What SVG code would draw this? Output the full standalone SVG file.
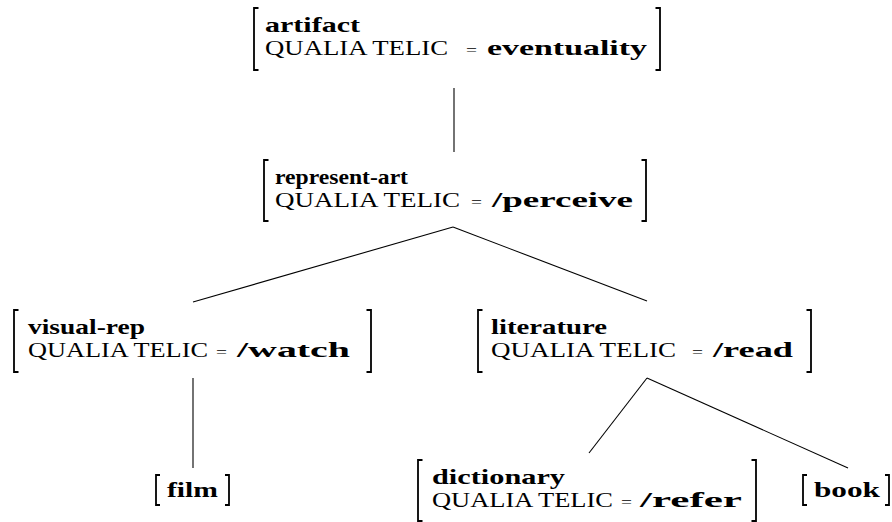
<svg xmlns="http://www.w3.org/2000/svg" width="892" height="522" viewBox="0 0 892 522">
<style>
text{font-family:"Liberation Serif","Times New Roman",serif;font-size:22px;fill:#000}
.b{font-weight:bold}
.eq{font-size:15px}
.br{fill:none;stroke:#000;stroke-width:1.8;stroke-linecap:butt}
.edge{stroke:#000;stroke-width:1.1;fill:none}
</style>
<rect width="892" height="522" fill="#fff"/>
<g id="connectors">
<line class="edge" x1="454" y1="88" x2="454" y2="152"/>
<line class="edge" x1="453" y1="227" x2="193" y2="302"/>
<line class="edge" x1="453" y1="227" x2="647" y2="301"/>
<line class="edge" x1="193" y1="378" x2="193" y2="468"/>
<line class="edge" x1="647" y1="378" x2="589" y2="453"/>
<line class="edge" x1="647" y1="378" x2="848" y2="468"/>
</g>
<g id="artifact">
<path class="br" d="M258.5,8 H254 V70 H258.5"/>
<path class="br" d="M655.5,8 H660 V70 H655.5"/>
<text class="b" x="265" y="32" textLength="95" lengthAdjust="spacingAndGlyphs">artifact</text>
<text x="265" y="55" textLength="183" lengthAdjust="spacingAndGlyphs">QUALIA TELIC</text>
<text class="eq" x="466" y="55" textLength="11" lengthAdjust="spacingAndGlyphs">=</text>
<text class="b" x="487" y="55" textLength="160" lengthAdjust="spacingAndGlyphs">eventuality</text>
</g>
<g id="represent-art">
<path class="br" d="M268.5,160 H264 V221 H268.5"/>
<path class="br" d="M641.5,160 H646 V221 H641.5"/>
<text class="b" x="275" y="184" textLength="133" lengthAdjust="spacingAndGlyphs">represent-art</text>
<text x="275" y="207" textLength="185" lengthAdjust="spacingAndGlyphs">QUALIA TELIC</text>
<text class="eq" x="471" y="207" textLength="11" lengthAdjust="spacingAndGlyphs">=</text>
<text class="b" x="492" y="207" textLength="141" lengthAdjust="spacingAndGlyphs">/perceive</text>
</g>
<g id="visual-rep">
<path class="br" d="M18.5,310 H14 V372 H18.5"/>
<path class="br" d="M366.5,310 H371 V372 H366.5"/>
<text class="b" x="28" y="334" textLength="117" lengthAdjust="spacingAndGlyphs">visual-rep</text>
<text x="28" y="357" textLength="180" lengthAdjust="spacingAndGlyphs">QUALIA TELIC</text>
<text class="eq" x="216" y="357" textLength="11" lengthAdjust="spacingAndGlyphs">=</text>
<text class="b" x="237" y="357" textLength="113" lengthAdjust="spacingAndGlyphs">/watch</text>
</g>
<g id="literature">
<path class="br" d="M482.5,310 H478 V372 H482.5"/>
<path class="br" d="M806.5,310 H811 V372 H806.5"/>
<text class="b" x="491" y="334" textLength="116" lengthAdjust="spacingAndGlyphs">literature</text>
<text x="491" y="357" textLength="185" lengthAdjust="spacingAndGlyphs">QUALIA TELIC</text>
<text class="eq" x="692" y="357" textLength="11" lengthAdjust="spacingAndGlyphs">=</text>
<text class="b" x="713" y="357" textLength="80" lengthAdjust="spacingAndGlyphs">/read</text>
</g>
<g id="film">
<path class="br" d="M160,475 H156 V505 H160"/>
<path class="br" d="M225,475 H229 V505 H225"/>
<text class="b" x="167" y="497" textLength="51" lengthAdjust="spacingAndGlyphs">film</text>
</g>
<g id="dictionary">
<path class="br" d="M422.5,460 H418 V521 H422.5"/>
<path class="br" d="M751.5,460 H756 V521 H751.5"/>
<text class="b" x="432" y="484" textLength="133" lengthAdjust="spacingAndGlyphs">dictionary</text>
<text x="432" y="507" textLength="181" lengthAdjust="spacingAndGlyphs">QUALIA TELIC</text>
<text class="eq" x="621" y="507" textLength="11" lengthAdjust="spacingAndGlyphs">=</text>
<text class="b" x="640" y="507" textLength="102" lengthAdjust="spacingAndGlyphs">/refer</text>
</g>
<g id="book">
<path class="br" d="M807,475 H803 V505 H807"/>
<path class="br" d="M885,475 H889 V505 H885"/>
<text class="b" x="814" y="497" textLength="66" lengthAdjust="spacingAndGlyphs">book</text>
</g>
</svg>
